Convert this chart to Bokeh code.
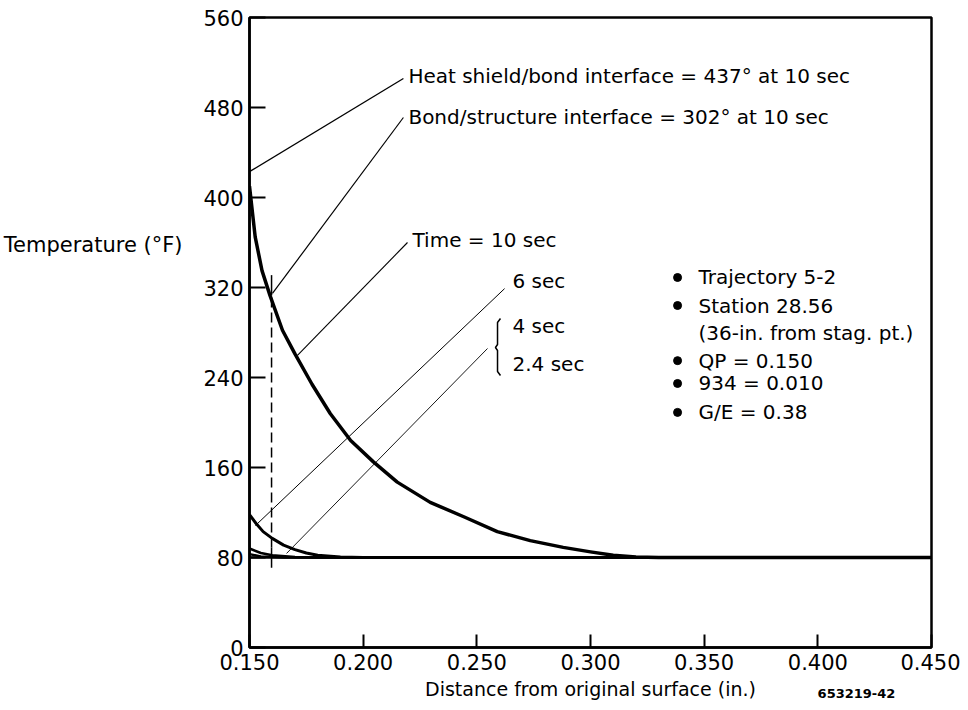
from bokeh.plotting import figure
from bokeh.models import FixedTicker, Range1d, LinearAxis
from bokeh.core.properties import value
from bokeh.embed import file_html
from bokeh.resources import INLINE

FONT = "DejaVu Sans"

# ---- data ----
x_ticks = [0.150, 0.200, 0.250, 0.300, 0.350, 0.400, 0.450]
x_tick_labels = ["0.150", "0.200", "0.250", "0.300", "0.350", "0.400", "0.450"]
y_ticks = [0, 80, 160, 240, 320, 400, 480, 560]

# 10 sec temperature profile
x_10s = [0.150, 0.1525, 0.1555, 0.159, 0.1645, 0.170, 0.1775, 0.1855, 0.1945,
         0.2045, 0.215, 0.2295, 0.2445, 0.259, 0.2735, 0.288, 0.300, 0.310,
         0.320, 0.330, 0.450]
t_10s = [410, 365, 335, 313, 282, 261, 234, 208, 184,
         165, 147, 129, 116, 103, 95, 89, 85, 82,
         80.5, 80, 80]
# 6 sec profile
x_6s = [0.150, 0.153, 0.156, 0.160, 0.165, 0.170, 0.175, 0.180, 0.190, 0.200, 0.450]
t_6s = [118, 110, 103, 97, 91, 87, 84, 82, 80.5, 80, 80]
# 4 sec profile
x_4s = [0.150, 0.155, 0.160, 0.170, 0.180, 0.450]
t_4s = [88, 84, 82, 80.5, 80, 80]
# 2.4 sec profile
x_24s = [0.150, 0.155, 0.165, 0.450]
t_24s = [83, 81, 80, 80]
# initial temperature
x_init = [0.150, 0.450]
t_init = [80, 80]

# bond/structure interface location
bond_x = 0.1597
bond_solid_top = [313, 331]
bond_dashed = [89, 313]
bond_solid_bottom = [71, 89]

# leader lines: (x0, y0, x1, y1)
leader_heat = [0.150, 423, 0.2177, 505.8]
leader_bond = [0.1601, 314.7, 0.2177, 471.1]
leader_time = [0.1711, 259.6, 0.2195, 360.0]
leader_6s = [0.1526, 108.4, 0.2622, 319.0]
leader_4s = [0.1663, 83.6, 0.2547, 265.8]

# brace outline for 4 sec / 2.4 sec
brace_x = [0.2604, 0.2591, 0.2591, 0.2582, 0.2591, 0.2591, 0.2604]
brace_y = [292.4, 288.9, 269.3, 266.7, 264.0, 245.3, 241.8]

annotations = [
    ("Heat shield/bond interface = 437\u00b0 at 10 sec", 0.2199, 507.6),
    ("Bond/structure interface = 302\u00b0 at 10 sec", 0.2199, 472.0),
    ("Time = 10 sec", 0.2217, 361.8),
    ("6 sec", 0.2657, 326.0),
    ("4 sec", 0.2657, 286.0),
    ("2.4 sec", 0.2657, 252.0),
]

notes_bullet_x = 0.3383
notes_text_x = 0.3475
notes = [
    ("Trajectory 5-2", 328.9, True),
    ("Station 28.56", 304.0, True),
    ("(36-in. from stag. pt.)", 280.0, False),
    ("QP = 0.150", 255.0, True),
    ("934 = 0.010", 234.7, True),
    ("G/E = 0.38", 209.0, True),
]

y_label_text = "Temperature (\u00b0F)"
y_label_pos = 358
x_label_text = "Distance from original surface (in.)"
fig_id_text = "653219-42"
fig_id_pos = 0.417

p = figure(frame_width=682, frame_height=630,
           min_border_left=249, min_border_right=29,
           min_border_top=17, min_border_bottom=5,
           x_range=Range1d(0.150, 0.450), y_range=Range1d(0, 560),
           output_backend="svg", toolbar_location=None,
           background_fill_color="white", border_fill_color="white")

p.grid.visible = False
p.outline_line_color = "black"
p.outline_line_width = 2.5

# axes
p.xaxis.ticker = FixedTicker(ticks=x_ticks)
p.xaxis.major_label_overrides = {t: s for t, s in zip(x_ticks, x_tick_labels)}
p.yaxis.ticker = FixedTicker(ticks=y_ticks)
for ax in (p.xaxis, p.yaxis):
    ax.axis_line_color = "black"
    ax.axis_line_width = 2.5
    ax.major_tick_line_color = "black"
    ax.major_tick_line_width = 2
    ax.major_tick_out = 0
    ax.minor_tick_line_color = None
    ax.major_label_text_font = FONT
    ax.major_label_text_font_size = "21px"
    ax.major_label_text_color = "black"
p.yaxis.major_tick_in = 16
p.xaxis.major_tick_in = 13
p.yaxis.major_label_standoff = 6
p.xaxis.major_label_standoff = 6

# horizontal y-axis title, drawn as the single label of an outer axis
y_title_axis = LinearAxis(ticker=FixedTicker(ticks=[y_label_pos]),
                          major_label_overrides={y_label_pos: y_label_text},
                          axis_line_color=None, major_tick_line_color=None,
                          minor_tick_line_color=None,
                          major_label_standoff=12,
                          major_label_text_font=FONT,
                          major_label_text_font_size="21px",
                          major_label_text_color="black")
p.add_layout(y_title_axis, "left")

# x-axis title and figure id, drawn by an outer axis
x_title_axis = LinearAxis(ticker=FixedTicker(ticks=[fig_id_pos]),
                          major_label_overrides={fig_id_pos: fig_id_text},
                          axis_line_color=None, major_tick_line_color=None,
                          minor_tick_line_color=None,
                          major_label_standoff=10,
                          major_label_text_font=FONT,
                          major_label_text_font_size="13px",
                          major_label_text_font_style="bold",
                          major_label_text_color="black",
                          axis_label=x_label_text,
                          axis_label_standoff=-23,
                          axis_label_text_font=FONT,
                          axis_label_text_font_size="19px",
                          axis_label_text_font_style="normal",
                          axis_label_text_color="black")
p.add_layout(x_title_axis, "below")

# curves
p.line(x_init, t_init, line_color="black", line_width=2.5)
p.line(x_24s, t_24s, line_color="black", line_width=2.5)
p.line(x_4s, t_4s, line_color="black", line_width=2.5)
p.line(x_6s, t_6s, line_color="black", line_width=3)
p.line(x_10s, t_10s, line_color="black", line_width=3.5, line_join="round")

# bond/structure location
p.line([bond_x, bond_x], bond_solid_top, line_color="black", line_width=1.5)
p.line([bond_x, bond_x], bond_dashed, line_color="black", line_width=1.5, line_dash="10 5")
p.line([bond_x, bond_x], bond_solid_bottom, line_color="black", line_width=1.5)

# leader lines
for ld, w in ((leader_heat, 1.3), (leader_bond, 1.2), (leader_time, 1.1),
              (leader_6s, 1.0), (leader_4s, 0.9)):
    p.line([ld[0], ld[2]], [ld[1], ld[3]], line_color="black", line_width=w)

p.line(brace_x, brace_y, line_color="black", line_width=1.5)

p.text(x=[a[1] for a in annotations], y=[a[2] for a in annotations],
       text=[a[0] for a in annotations], text_font=value(FONT),
       text_font_size="20px", text_color="black",
       text_align="left", text_baseline="middle")

bul = [n for n in notes if n[2]]
p.scatter(x=[notes_bullet_x] * len(bul), y=[n[1] for n in bul], size=8,
          marker="circle", color="black")
p.text(x=[notes_text_x] * len(notes), y=[n[1] for n in notes],
       text=[n[0] for n in notes], text_font=value(FONT),
       text_font_size="20px", text_color="black",
       text_align="left", text_baseline="middle")

open("out.html", "w").write(file_html(p, INLINE))
